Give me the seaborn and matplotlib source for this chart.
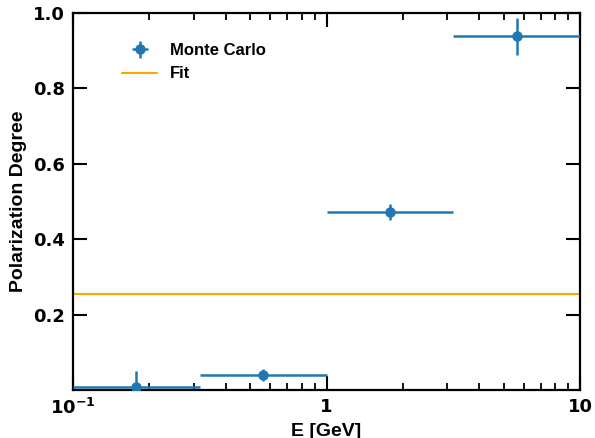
import numpy as np
import pandas as pd
import matplotlib
matplotlib.use("Agg")
import matplotlib.pyplot as plt
import seaborn as sns

# Data
bin_lo = [0.1, 0.316, 1.0, 3.16]
bin_hi = [0.316, 1.0, 3.16, 10.0]
energy = [0.178, 0.562, 1.78, 5.62]
pol = [0.008, 0.040, 0.472, 0.938]
pol_err = [0.042, 0.017, 0.022, 0.050]
fit_value = 0.255
series_labels = ["Monte Carlo", "Fit"]
xlabel = "E [GeV]"
ylabel = "Polarization Degree"

df = pd.DataFrame({"E": energy, "P": pol, "Perr": pol_err, "lo": bin_lo, "hi": bin_hi})

sns.set_theme(style="ticks")
plt.rcParams["font.family"] = ["DejaVu Sans"]
plt.rcParams["text.color"] = "black"
plt.rcParams["axes.labelcolor"] = "black"

fig = plt.figure(figsize=(5.95, 4.38), dpi=100)
ax = fig.add_axes([73/595, 1-390/438, (580-73)/595, (390-13)/438])

xerr = np.array([df["E"] - df["lo"], df["hi"] - df["E"]])
h1 = ax.errorbar(df["E"], df["P"], yerr=df["Perr"], xerr=xerr, fmt="o", color="#1f77b4",
                 ms=6.5, elinewidth=1.8, capsize=0, label=series_labels[0], zorder=3)
h2 = ax.axhline(fit_value, color="orange", lw=1.5, label=series_labels[1], zorder=2)

ax.set_xscale("log")
ax.set_xlim(0.1, 10)
ax.set_ylim(0.0, 1.0)
ax.set_yticks([0.2, 0.4, 0.6, 0.8, 1.0])
ax.set_yticklabels(["0.2", "0.4", "0.6", "0.8", "1.0"])
ax.set_xticks([0.1, 1, 10])
ax.set_xticklabels([r"$\mathbf{10^{-1}}$", "1", "10"])
ax.yaxis.set_minor_locator(matplotlib.ticker.NullLocator())

for lab in ax.get_xticklabels() + ax.get_yticklabels():
    lab.set_fontweight("bold")
    lab.set_fontsize(13)
    lab.set_color("black")

ax.tick_params(which="both", direction="in", top=True, right=True, colors="black")
ax.tick_params(which="major", length=10, width=1.5, pad=6)
ax.tick_params(which="minor", length=5, width=1.3)
for s in ax.spines.values():
    s.set_linewidth(1.6)
    s.set_color("black")

lab_font = dict(family=["Liberation Sans", "DejaVu Sans"], weight="bold", size=14, color="black")
ax.set_xlabel(xlabel, fontdict=lab_font, labelpad=3)
ax.set_ylabel(ylabel, fontdict=lab_font, labelpad=4)

leg = ax.legend(handles=[h1, h2], labels=series_labels, loc="upper left",
                bbox_to_anchor=(0.068, 0.96), frameon=False, handlelength=2.1,
                handletextpad=0.75,
                prop=dict(family=["Liberation Sans", "DejaVu Sans"], weight="bold", size=12))
for t in leg.get_texts():
    t.set_color("black")

fig.savefig("out.png", dpi=100)
